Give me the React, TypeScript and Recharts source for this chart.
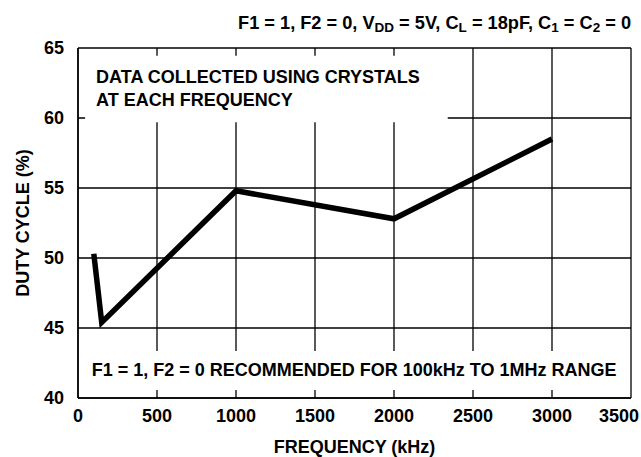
import React from "react";
import {
  LineChart,
  Line,
  XAxis,
  YAxis,
  CartesianGrid,
  ReferenceArea,
  Label,
} from "recharts";

const frequencies = [100, 150, 1000, 2000, 3000];
const dutyCycle = [50.3, 45.4, 54.8, 52.8, 58.5];
const xTicks = [0, 500, 1000, 1500, 2000, 2500, 3000, 3500];
const yTicks = [40, 45, 50, 55, 60, 65];
const topNote = ["DATA COLLECTED USING CRYSTALS", "AT EACH FREQUENCY"];
const bottomNote = "F1 = 1, F2 = 0 RECOMMENDED FOR 100kHz TO 1MHz RANGE";
const xTitle = "FREQUENCY (kHz)";
const yTitle = "DUTY CYCLE (%)";

const data = frequencies.map((f, i) => ({ freq: f, duty: dutyCycle[i] }));

const FONT = '"Liberation Sans", Arial, Helvetica, sans-serif';
const CHART_W = 641;

const XTick = (props: any) => {
  const { x, y, payload } = props;
  const label = String(payload.value);
  const approxW = label.length * 10;
  const overflow = x + approxW / 2 > CHART_W - 2;
  return (
    <text
      x={overflow ? CHART_W - 2 : x}
      y={y + 18}
      textAnchor={overflow ? "end" : "middle"}
      dominantBaseline="central"
      fontFamily={FONT}
      fontWeight="bold"
      fontSize={18}
      fill="#000"
    >
      {label}
    </text>
  );
};

const YTick = (props: any) => {
  const { x, y, payload } = props;
  return (
    <text
      x={x - 14}
      y={y}
      textAnchor="end"
      dominantBaseline="central"
      fontFamily={FONT}
      fontWeight="bold"
      fontSize={18}
      fill="#000"
    >
      {payload.value}
    </text>
  );
};

const XTitle = (props: any) => {
  const vb = props.viewBox || {};
  return (
    <text
      x={vb.x + vb.width / 2}
      y={vb.y + 49}
      textAnchor="middle"
      dominantBaseline="central"
      fontFamily={FONT}
      fontWeight="bold"
      fontSize={18}
      fill="#000"
    >
      {xTitle}
    </text>
  );
};

const YTitle = (props: any) => {
  const vb = props.viewBox || {};
  const cx = vb.x + 23;
  const cy = vb.y + vb.height / 2;
  return (
    <text
      x={cx}
      y={cy}
      transform={`rotate(-90 ${cx} ${cy})`}
      textAnchor="middle"
      dominantBaseline="central"
      fontFamily={FONT}
      fontWeight="bold"
      fontSize={18}
      fill="#000"
    >
      {yTitle}
    </text>
  );
};

const TopNote = (props: any) => {
  const vb = props.viewBox || {};
  return (
    <g>
      {topNote.map((line, i) => (
        <text
          key={i}
          x={vb.x + 11}
          y={vb.y + 21 + i * 23}
          textAnchor="start"
          dominantBaseline="central"
          fontFamily={FONT}
          fontWeight="bold"
          fontSize={18}
          fill="#000"
        >
          {line}
        </text>
      ))}
    </g>
  );
};

const BottomNote = (props: any) => {
  const vb = props.viewBox || {};
  return (
    <text
      x={vb.x + vb.width / 2}
      y={vb.y + vb.height / 2}
      textAnchor="middle"
      dominantBaseline="central"
      fontFamily={FONT}
      fontWeight="bold"
      fontSize={18}
      fill="#000"
    >
      {bottomNote}
    </text>
  );
};

export default function App() {
  return (
    <div style={{ position: "absolute", left: 0, top: 0, width: 641, height: 457, background: "#fff" }}>
      <LineChart
        width={641}
        height={457}
        data={data}
        margin={{ top: 48, right: 10, bottom: 0, left: 0 }}
      >
        <CartesianGrid
          stroke="#000"
          strokeWidth={1.3}
          horizontal
          vertical
          fill="none"
        />
        <XAxis
          dataKey="freq"
          type="number"
          domain={[0, 3500]}
          ticks={xTicks}
          allowDataOverflow
          height={59}
          tickLine={false}
          tickSize={0}
          tickMargin={0}
          axisLine={{ stroke: "#000", strokeWidth: 1.5 }}
          tick={<XTick />}
          interval={0}
        >
          <Label content={<XTitle />} />
        </XAxis>
        <YAxis
          type="number"
          domain={[40, 65]}
          ticks={yTicks}
          allowDataOverflow
          width={78}
          tickLine={false}
          tickSize={0}
          tickMargin={0}
          axisLine={{ stroke: "#000", strokeWidth: 1.5 }}
          tick={<YTick />}
          interval={0}
        >
          <Label content={<YTitle />} />
        </YAxis>
        <ReferenceArea
          x1={45}
          x2={2340}
          y1={59.7}
          y2={64.45}
          fill="#fff"
          fillOpacity={1}
          stroke="none"
          ifOverflow="visible"
          label={<TopNote />}
        />
        <ReferenceArea
          x1={45}
          x2={3450}
          y1={40.57}
          y2={43.36}
          fill="#fff"
          fillOpacity={1}
          stroke="none"
          ifOverflow="visible"
          label={<BottomNote />}
        />
        <Line
          type="linear"
          dataKey="duty"
          stroke="#000"
          strokeWidth={5.5}
          strokeLinejoin="miter"
          strokeLinecap="butt"
          dot={false}
          activeDot={false}
          isAnimationActive={false}
        />
      </LineChart>
      <svg
        width={641}
        height={40}
        style={{ position: "absolute", left: 0, top: 0, pointerEvents: "none" }}
      >
        <text
          x={631}
          y={22.5}
          textAnchor="end"
          dominantBaseline="central"
          fontFamily={FONT}
          fontWeight="bold"
          fontSize={18.2}
          fill="#000"
        >
          <tspan>F1 = 1, F2 = 0, V</tspan>
          <tspan fontSize={13.5} dy={4}>DD</tspan>
          <tspan dy={-4}> = 5V, C</tspan>
          <tspan fontSize={13.5} dy={4}>L</tspan>
          <tspan dy={-4}> = 18pF, C</tspan>
          <tspan fontSize={13.5} dy={4}>1</tspan>
          <tspan dy={-4}> = C</tspan>
          <tspan fontSize={13.5} dy={4}>2</tspan>
          <tspan dy={-4}> = 0</tspan>
        </text>
      </svg>
    </div>
  );
}
